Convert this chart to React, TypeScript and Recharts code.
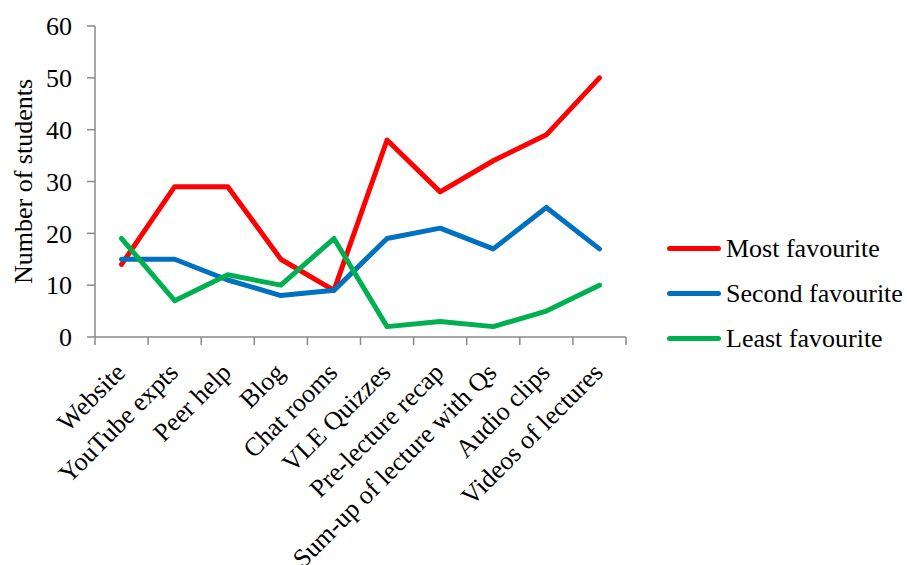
import { LineChart, Line, XAxis, YAxis, Legend } from "recharts";

const categories = [
  "Website",
  "YouTube expts",
  "Peer help",
  "Blog",
  "Chat rooms",
  "VLE Quizzes",
  "Pre-lecture recap",
  "Sum-up of lecture with Qs",
  "Audio clips",
  "Videos of lectures",
];

const mostFavourite = [14, 29, 29, 15, 9, 38, 28, 34, 39, 50];
const secondFavourite = [15, 15, 11, 8, 9, 19, 21, 17, 25, 17];
const leastFavourite = [19, 7, 12, 10, 19, 2, 3, 2, 5, 10];

const yTicks = [0, 10, 20, 30, 40, 50, 60];

const series = [
  { key: "most", name: "Most favourite", color: "#FF0000" },
  { key: "second", name: "Second favourite", color: "#0070C0" },
  { key: "least", name: "Least favourite", color: "#00B050" },
];

const data = categories.map((category, i) => ({
  category,
  most: mostFavourite[i],
  second: secondFavourite[i],
  least: leastFavourite[i],
}));

const FONT = '"Liberation Serif", "Times New Roman", serif';
const AXIS_GREY = "#898989";

// category tick: tick marks sit on the band edges, label rotated 45deg ending under the centre
function CategoryTick(props: any) {
  const { x, y, payload, index, visibleTicksCount } = props;
  const half = payload?.offset ?? 0;
  const last = index === visibleTicksCount - 1;
  const tx = x + 5;
  const ty = y + 37;
  return (
    <g>
      <line x1={x - half} y1={y} x2={x - half} y2={y + 8} stroke={AXIS_GREY} strokeWidth={1.5} />
      {last && (
        <line x1={x + half} y1={y} x2={x + half} y2={y + 8} stroke={AXIS_GREY} strokeWidth={1.5} />
      )}
      <text
        x={tx}
        y={ty}
        transform={`rotate(-45, ${tx}, ${ty})`}
        textAnchor="end"
        fontFamily={FONT}
        fontSize={26}
        fill="#000"
      >
        {payload.value}
      </text>
    </g>
  );
}

function LegendBox() {
  return (
    <div style={{ fontFamily: FONT, fontSize: 26, color: "#000" }}>
      {series.map((s) => (
        <div key={s.key} style={{ display: "flex", alignItems: "center", height: 45 }}>
          <span
            style={{
              display: "inline-block",
              width: 54,
              height: 5,
              borderRadius: 3,
              background: s.color,
              marginRight: 5,
            }}
          />
          <span style={{ whiteSpace: "nowrap" }}>{s.name}</span>
        </div>
      ))}
    </div>
  );
}

export default function App() {
  return (
    <div style={{ position: "absolute", left: 0, top: 0, width: 907, height: 565, background: "#fff" }}>
      <LineChart
        width={907}
        height={565}
        data={data}
        margin={{ top: 26, right: 281, bottom: 0, left: 0 }}
      >
        <XAxis
          dataKey="category"
          scale="band"
          interval={0}
          height={228}
          tickSize={0}
          tickMargin={0}
          tickLine={false}
          axisLine={{ stroke: AXIS_GREY, strokeWidth: 1.5 }}
          tick={<CategoryTick />}
        />
        <YAxis
          width={95}
          domain={[0, 60]}
          ticks={yTicks}
          interval={0}
          tickSize={8}
          tickMargin={15}
          axisLine={{ stroke: AXIS_GREY, strokeWidth: 1.5 }}
          tickLine={{ stroke: AXIS_GREY, strokeWidth: 1.5 }}
          tick={{ fill: "#000", fontFamily: FONT, fontSize: 26 }}
          label={{
            content: (p: any) => {
              const vb = p.viewBox;
              const cx = 23;
              const cy = vb.y + vb.height / 2;
              return (
                <text
                  x={cx}
                  y={cy}
                  transform={`rotate(-90, ${cx}, ${cy})`}
                  textAnchor="middle"
                  dominantBaseline="central"
                  fontFamily={FONT}
                  fontSize={26}
                  fill="#000"
                >
                  Number of students
                </text>
              );
            },
          }}
        />
        {/* horizontal + middle keeps the legend from shrinking the plot area */}
        <Legend
          layout="horizontal"
          verticalAlign="middle"
          align="center"
          content={<LegendBox />}
          wrapperStyle={{ left: 667, top: 226, width: 240 }}
        />
        {series.map((s) => (
          <Line
            key={s.key}
            dataKey={s.key}
            name={s.name}
            stroke={s.color}
            strokeWidth={5}
            strokeLinejoin="round"
            strokeLinecap="round"
            dot={false}
            activeDot={false}
            isAnimationActive={false}
          />
        ))}
      </LineChart>
    </div>
  );
}
